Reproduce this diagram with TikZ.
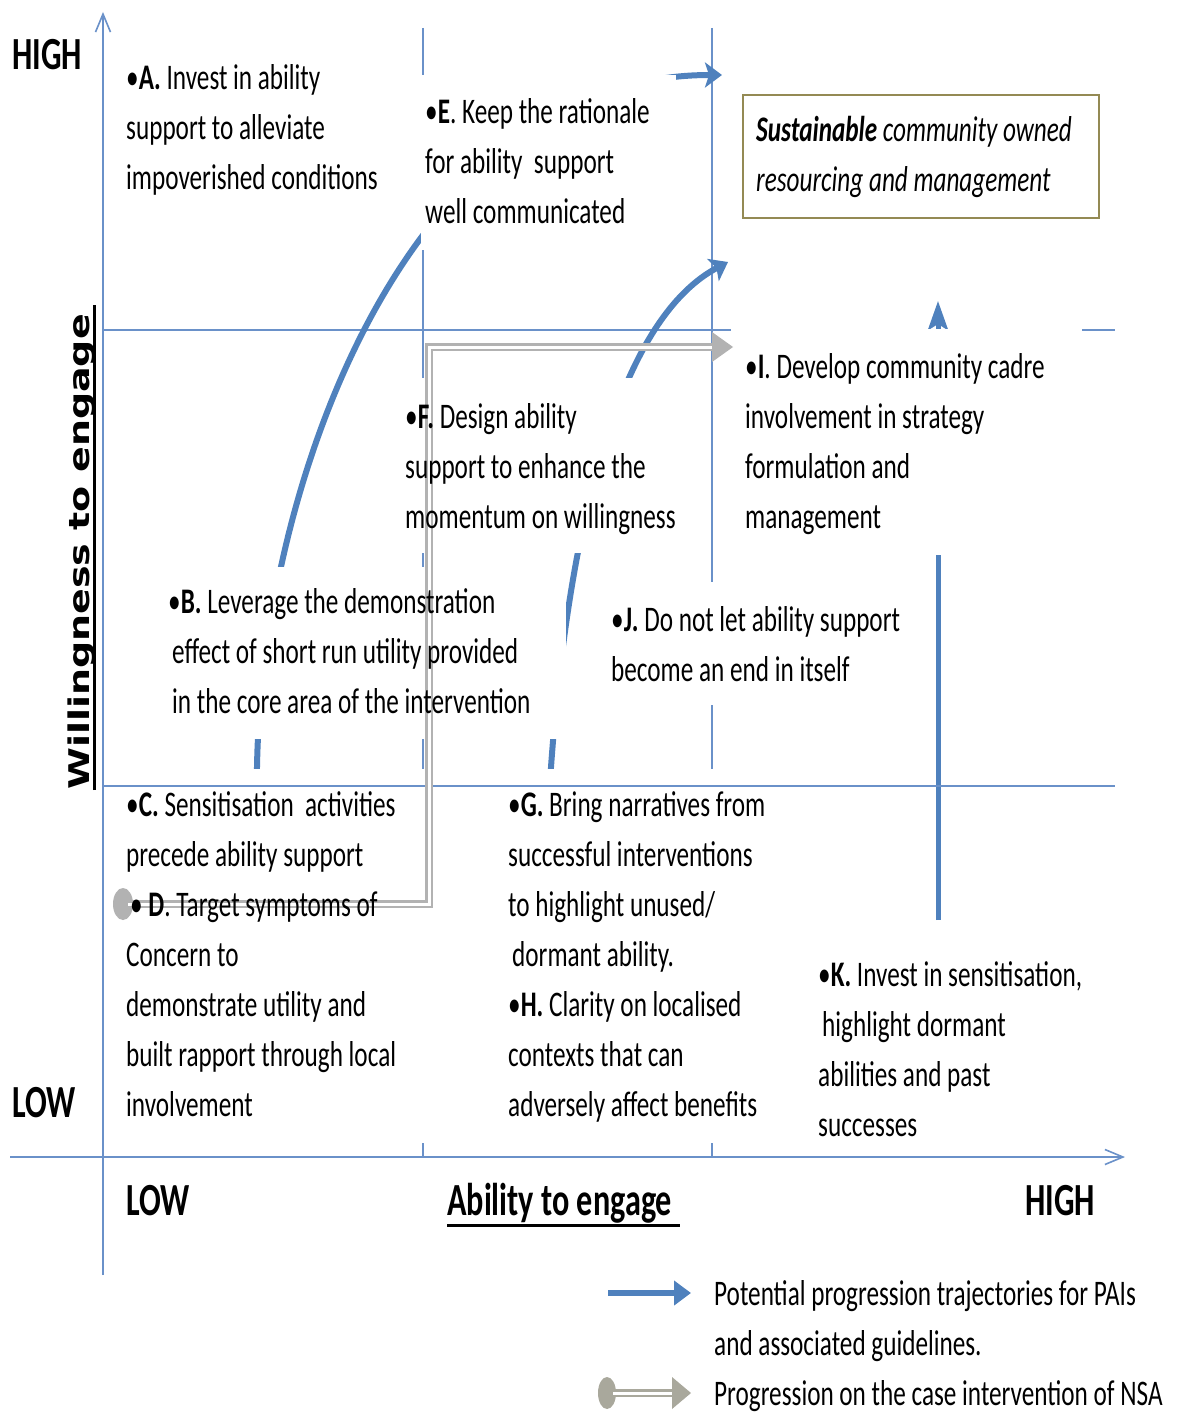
\documentclass[tikz,border=0pt]{standalone}
\usepackage{fontspec}
\setmainfont{Carlito}[FakeStretch=0.7]
\newfontfamily\axisfont{DejaVu Sans}
\usetikzlibrary{arrows.meta}
\definecolor{gridblue}{HTML}{6A91C9}
\definecolor{trajblue}{HTML}{4F81BD}
\definecolor{nsagray}{HTML}{B2B2B2}
\definecolor{legendgray}{HTML}{A9A89C}
\definecolor{boxolive}{HTML}{948A54}

\begin{document}
\begin{tikzpicture}[x=1pt,y=-1pt,
  gridline/.style={gridblue, line width=1.6pt},
  axisline/.style={gridblue, line width=1.6pt, -{Straight Barb[length=18pt,width=15pt]}},
  traj/.style={trajblue, line width=6pt, -{Stealth[length=17pt,width=25pt,inset=4pt]}},
  cover/.style={fill=white},
  % multi-line nodes are anchored at the baseline of their last line
  txt/.style={anchor=base west, inner sep=0pt, align=left, font=\fontsize{36}{50}\selectfont},
  axlabel/.style={anchor=base west, inner sep=0pt, font=\fontsize{46}{50}\selectfont\bfseries},
  nsa/.style={draw=nsagray, line width=2.6pt, double=white, double distance=3pt},
]
\useasboundingbox (0,0) rectangle (1176,1412);

% grid of the four quadrants (partly hidden behind the text panels)
\draw[gridline] (423,28) -- (423,1157);
\draw[gridline] (712,28) -- (712,1157);
\draw[gridline] (103,330) -- (1115,330);

% progression trajectories
\coordinate (t1s) at (256,800);
\coordinate (t1a) at (257,767);
\coordinate (t1e) at (722,75);
\draw[traj] (t1s) -- (t1a) .. controls (262,480) and (410,75) .. (t1e);

\coordinate (t2s) at (550,800);
\coordinate (t2a) at (551,767);
\coordinate (t2e) at (728,262);
\draw[traj] (t2s) -- (t2a) .. controls (563,600) and (600,330) .. (t2e);

\coordinate (t3s) at (938,920);
\coordinate (t3e) at (938,301);
\draw[trajblue, line width=5pt, -{Stealth[length=29pt,width=20pt,inset=6pt]}] (t3s) -- (t3e);

% text panels mask the lines behind them
\fill[cover] (421,75) rectangle (676,250);
\fill[cover] (731,329) rectangle (1082,555);
\fill[cover] (400,378) rectangle (682,553);
\fill[cover] (160,567) rectangle (566,739);
\fill[cover] (600,582) rectangle (905,705);
\fill[cover] (110,769) rectangle (480,1143);
\fill[cover] (495,769) rectangle (790,1143);

% lines drawn above the panels
\draw[gridline] (103,786) -- (1115,786);
\draw[axisline] (103,1275) -- (103,12);
\draw[axisline] (10,1157) -- (1125,1157);

% case intervention path
\fill[nsagray] (123,904) ellipse [x radius=10, y radius=16];
\draw[nsa, line join=miter] (128,904) -- (429,904) -- (429,347) -- (713,347);
\fill[nsagray] (712,332) -- (733,347) -- (712,362) -- cycle;

% goal box
\draw[boxolive, line width=2pt] (743,95) rectangle (1099,218);
\node[txt] (sus) at (756,192) {\textbf{\textit{Sustainable}} \textit{community owned}\\\textit{resourcing and management}};

% guidelines
\node[txt] (A) at (126,190) {\textbullet\textbf{A.} Invest in ability\\support to alleviate\\impoverished conditions};
\node[txt] (E) at (425,224) {\textbullet\textbf{E}. Keep the rationale\\for ability\ \ support\\well communicated};
\node[txt] (I) at (745,528) {\textbullet\textbf{I}. Develop community cadre\\involvement in strategy\\formulation and\\management};
\node[txt] (F) at (405,528) {\textbullet\textbf{F.} Design ability\\support to enhance the\\momentum on willingness};
\node[txt] (B) at (168,713) {\textbullet\textbf{B.} Leverage the demonstration\\\hspace*{4pt}effect of short run utility\ provided\\\hspace*{4pt}in the core area of the intervention};
\node[txt] (J) at (611,681) {\textbullet\textbf{J.} Do not let ability support\\become an end in itself};
\node[txt] (CD) at (126,1116) {\textbullet\textbf{C.} Sensitisation\ \ activities\\precede ability\ support\\\hspace*{4pt}\textbullet\ \textbf{D}. Target symptoms of\\Concern to\\demonstrate utility\ and\\built rapport through local\\involvement};
\node[txt] (GH) at (508,1116) {\textbullet\textbf{G.} Bring narratives from\\successful interventions\\to highlight unused/\\\hspace*{4pt}dormant ability.\\\textbullet\textbf{H.} Clarity on localised\\contexts that can\\adversely affect benefits};
\node[txt] (K) at (818,1136) {\textbullet\textbf{K.} Invest in sensitisation,\\\hspace*{4pt}highlight dormant\\abilities and past\\successes};

% axis labels
\node[axlabel] (yhigh) at (12,70) {HIGH};
\node[axlabel] (ylow) at (12,1117) {LOW};
\node[axlabel] (xlow) at (126,1215) {LOW};
\node[axlabel] (xtitle) at (447,1215) {Ability to engage};
\draw[line width=3pt] (447,1225) -- (680,1225);
\node[axlabel] (xhigh) at (1025,1215) {HIGH};
\node[rotate=90, anchor=base west, inner sep=0pt] (ytitle) at (89,790)
  {\scalebox{1}[0.75]{\axisfont\bfseries\fontsize{38}{40}\selectfont Willingness to engage}};
\draw[line width=3pt] (94,790) -- (94,305);

% legend
\coordinate (l1s) at (608,1293);
\coordinate (l1e) at (691,1293);
\draw[trajblue, line width=6pt, -{Triangle[length=17pt,width=24pt]}] (l1s) -- (l1e);
\node[txt] (leg1) at (714,1355) {Potential progression trajectories for PAIs\\and associated guidelines.};
\fill[legendgray] (607,1393) ellipse [x radius=9, y radius=16];
\draw[draw=legendgray, line width=2.6pt, double=white, double distance=3pt] (613,1393) -- (673,1393);
\fill[legendgray] (672,1377) -- (691,1393) -- (672,1409) -- cycle;
\node[txt] (leg2) at (714,1405) {Progression on the case intervention of NSA};
\end{tikzpicture}
\end{document}
